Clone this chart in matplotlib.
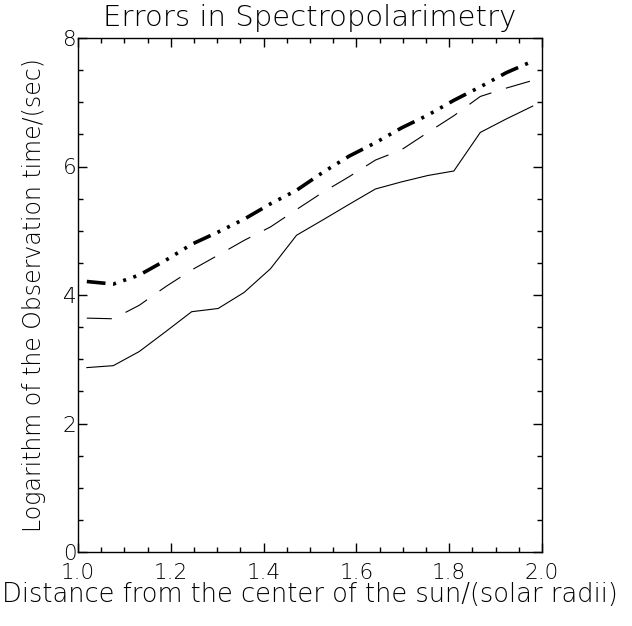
import matplotlib as mpl
mpl.use('Agg')
import matplotlib.pyplot as plt
from matplotlib.ticker import MultipleLocator

plt.rcParams['font.family'] = ['DejaVu Sans']
plt.rcParams['font.weight'] = 200
plt.rcParams['lines.scale_dashes'] = False

# distance from the sun center (solar radii)
dist = [1.019, 1.076, 1.132, 1.189, 1.245, 1.302, 1.358, 1.415, 1.471,
        1.528, 1.584, 1.641, 1.697, 1.754, 1.810, 1.867, 1.923, 1.980]

# log observation time for the three curves
t_solid = [2.87, 2.90, 3.12, 3.43, 3.74, 3.79, 4.04, 4.41, 4.93,
           5.17, 5.41, 5.65, 5.76, 5.86, 5.93, 6.53, 6.74, 6.94]
t_dash = [3.64, 3.63, 3.84, 4.13, 4.39, 4.62, 4.85, 5.06, 5.33,
          5.60, 5.84, 6.10, 6.26, 6.53, 6.79, 7.09, 7.22, 7.34]
t_dot = [4.21, 4.17, 4.31, 4.54, 4.79, 4.98, 5.18, 5.42, 5.63,
         5.91, 6.16, 6.37, 6.60, 6.80, 7.03, 7.24, 7.46, 7.64]

fig = plt.figure(figsize=(6.32, 6.26), dpi=100)
ax = fig.add_axes([78/632, 74/626, 464/632, 514/626])

ax.plot(dist, t_solid, color='k', lw=0.8)
ax.plot(dist, t_dash, color='k', lw=0.8, dashes=(18, 11), dash_capstyle='butt')
ax.plot(dist, t_dot, color='k', lw=2.6,
        dashes=(13.5, 5.5, 2.2, 5.5, 2.2, 5.5, 2.2, 5.5), dash_capstyle='butt')

ax.set_xlim(1.0, 2.0)
ax.set_ylim(0, 8)
ax.xaxis.set_major_locator(MultipleLocator(0.2))
ax.xaxis.set_minor_locator(MultipleLocator(0.05))
ax.yaxis.set_major_locator(MultipleLocator(2))
ax.yaxis.set_minor_locator(MultipleLocator(0.5))
ax.tick_params(which='both', direction='in', top=True, right=True, width=1)
ax.tick_params(which='major', length=6.5)
ax.tick_params(which='minor', length=3.6)
ax.tick_params(axis='x', labelsize=15.5, pad=8)
ax.tick_params(axis='y', labelsize=15.5, pad=1)
for s in ax.spines.values():
    s.set_linewidth(1.0)

ax.set_title('Errors in Spectropolarimetry', fontsize=21, fontweight=200, pad=9)
ax.set_xlabel('Distance from the center of the sun/(solar radii)', fontsize=18.5,
              fontweight=200, labelpad=-1)
ax.set_ylabel('Logarithm of the Observation time/(sec)', fontsize=17,
              fontweight=200, labelpad=12)

fig.savefig('out.png', dpi=100)
